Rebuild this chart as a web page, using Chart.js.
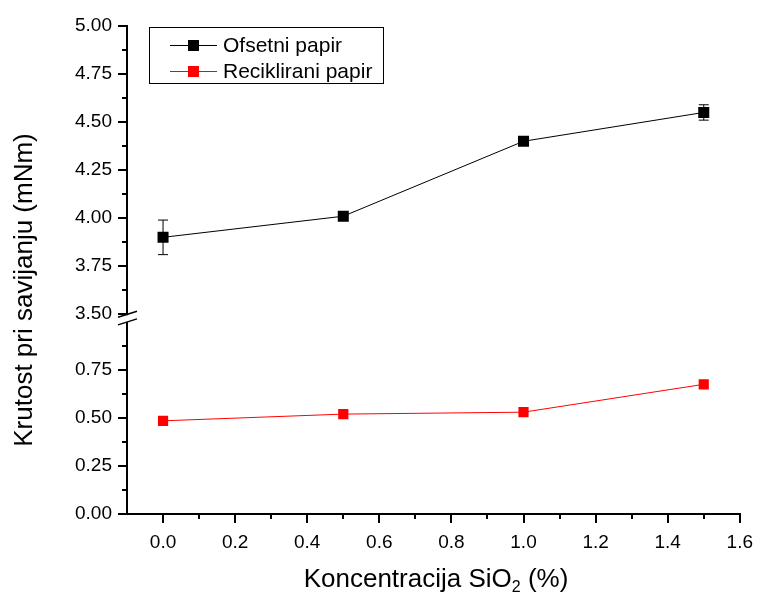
<!DOCTYPE html>
<html>
<head>
<meta charset="utf-8">
<script src="https://cdn.jsdelivr.net/npm/chart.js@4.4.0/dist/chart.umd.min.js"></script>
<style>
  html, body { margin: 0; padding: 0; background: #fff; }
  #wrap { width: 761px; height: 594px; }
</style>
</head>
<body>
<div id="wrap"><canvas id="chart" width="761" height="594"></canvas></div>
<script>
// data
const concentrations = [0, 0.5, 1.0, 1.5];
const ofsetni = [3.90, 4.01, 4.40, 4.55];
const ofsetniErr = [0.09, 0.005, 0.01, 0.04];
const reciklirani = [0.485, 0.52, 0.53, 0.675];
const recikliraniErr = [0, 0, 0, 0];

// ticks
const xTicks = [0, 0.2, 0.4, 0.6, 0.8, 1.0, 1.2, 1.4, 1.6];
const xMinor = [0.1, 0.3, 0.5, 0.7, 0.9, 1.1, 1.3, 1.5];
const yLowTicks = [0, 0.25, 0.5, 0.75];
const yLowMinor = [0.125, 0.375, 0.625, 0.875];
const yHighTicks = [3.5, 3.75, 4.0, 4.25, 4.5, 4.75, 5.0];
const yHighMinor = [3.625, 3.875, 4.125, 4.375, 4.625, 4.875];

Chart.defaults.font.family = "'Liberation Sans', Arial, sans-serif";
Chart.defaults.color = '#000';

const toPoints = (ys) => concentrations.map((x, i) => ({ x: x, y: ys[i] }));

const axisGrid = {
  drawOnChartArea: false,
  drawTicks: true,
  tickLength: 9,
  tickWidth: 2,
  lineWidth: 2,
  color: '#000'
};

// error bars, minor ticks, axis break, legend, titles
const extras = {
  id: 'extras',
  beforeDatasetsDraw(chart) {
    const ctx = chart.ctx;
    const xs = chart.scales.x;
    const sets = [
      { scale: chart.scales.y2, vals: ofsetni, errs: ofsetniErr, color: '#000' },
      { scale: chart.scales.y, vals: reciklirani, errs: recikliraniErr, color: '#ff0000' }
    ];
    ctx.save();
    ctx.lineWidth = 1;
    sets.forEach(s => {
      ctx.strokeStyle = s.color;
      concentrations.forEach((c, i) => {
        if (!s.errs[i]) return;
        const px = xs.getPixelForValue(c);
        const top = s.scale.getPixelForValue(s.vals[i] + s.errs[i]);
        const bot = s.scale.getPixelForValue(s.vals[i] - s.errs[i]);
        ctx.beginPath();
        ctx.moveTo(px, top); ctx.lineTo(px, bot);
        ctx.moveTo(px - 5, top); ctx.lineTo(px + 5, top);
        ctx.moveTo(px - 5, bot); ctx.lineTo(px + 5, bot);
        ctx.stroke();
      });
    });
    ctx.restore();
  },
  afterDraw(chart) {
    const ctx = chart.ctx;
    const xs = chart.scales.x, yLo = chart.scales.y, yHi = chart.scales.y2;
    const ax = chart.chartArea.left;
    ctx.save();

    // minor ticks
    ctx.strokeStyle = '#000';
    ctx.lineWidth = 2;
    ctx.beginPath();
    xMinor.forEach(v => {
      const px = Math.round(xs.getPixelForValue(v));
      ctx.moveTo(px, xs.top); ctx.lineTo(px, xs.top + 5);
    });
    yLowMinor.forEach(v => {
      const py = Math.round(yLo.getPixelForValue(v));
      ctx.moveTo(ax - 5, py); ctx.lineTo(ax, py);
    });
    yHighMinor.forEach(v => {
      const py = Math.round(yHi.getPixelForValue(v));
      ctx.moveTo(ax - 5, py); ctx.lineTo(ax, py);
    });
    ctx.stroke();

    // axis break
    const bTop = yHi.getPixelForValue(3.5);
    const bBot = yLo.getPixelForValue(1.0);
    ctx.fillStyle = '#fff';
    ctx.fillRect(ax - 3, bTop + 1, 6, bBot - bTop - 1);
    ctx.beginPath();
    ctx.moveTo(ax - 9, bTop + 3); ctx.lineTo(ax + 10, bTop - 3);
    ctx.moveTo(ax - 9, bBot + 3); ctx.lineTo(ax + 10, bBot - 3);
    ctx.lineWidth = 1.5;
    ctx.stroke();

    // legend
    const lx = 149.5, ly = 27.5, lw = 234, lh = 56;
    ctx.lineWidth = 1;
    ctx.strokeStyle = '#000';
    ctx.strokeRect(lx, ly, lw, lh);
    const rows = [45, 71];
    chart.data.datasets.forEach((ds, i) => {
      const ry = rows[i];
      ctx.strokeStyle = ds.borderColor;
      ctx.beginPath();
      ctx.moveTo(170, ry + 0.5); ctx.lineTo(217, ry + 0.5);
      ctx.stroke();
      ctx.fillStyle = ds.pointBackgroundColor;
      ctx.fillRect(188, ry - 5, 11, 11);
      ctx.fillStyle = '#000';
      ctx.font = "21px 'Liberation Sans', Arial, sans-serif";
      ctx.textAlign = 'left';
      ctx.textBaseline = 'middle';
      ctx.fillText(ds.label, 223, ry + 1);
    });

    // y title
    ctx.save();
    ctx.translate(25, 290);
    ctx.rotate(-Math.PI / 2);
    ctx.font = "26px 'Liberation Sans', Arial, sans-serif";
    ctx.textAlign = 'center';
    ctx.textBaseline = 'middle';
    ctx.fillStyle = '#000';
    ctx.fillText('Krutost pri savijanju (mNm)', 0, 0);
    ctx.restore();

    // x title with subscript
    const big = "26px 'Liberation Sans', Arial, sans-serif";
    const small = "16px 'Liberation Sans', Arial, sans-serif";
    const p1 = 'Koncentracija SiO', p2 = '2', p3 = ' (%)';
    ctx.font = big; const w1 = ctx.measureText(p1).width, w3 = ctx.measureText(p3).width;
    ctx.font = small; const w2 = ctx.measureText(p2).width;
    let tx = 436 - (w1 + w2 + w3) / 2;
    const base = 587;
    ctx.fillStyle = '#000';
    ctx.textAlign = 'left';
    ctx.textBaseline = 'alphabetic';
    ctx.font = big; ctx.fillText(p1, tx, base); tx += w1;
    ctx.font = small; ctx.fillText(p2, tx, base + 5); tx += w2;
    ctx.font = big; ctx.fillText(p3, tx, base);

    ctx.restore();
  }
};

new Chart(document.getElementById('chart'), {
  type: 'line',
  data: {
    datasets: [
      {
        label: 'Ofsetni papir',
        data: toPoints(ofsetni),
        yAxisID: 'y2',
        borderColor: '#000',
        borderWidth: 1,
        pointStyle: 'rect',
        pointRadius: 7.8,
        pointBackgroundColor: '#000',
        pointBorderWidth: 0,
        tension: 0
      },
      {
        label: 'Reciklirani papir',
        data: toPoints(reciklirani),
        yAxisID: 'y',
        borderColor: '#ff0000',
        borderWidth: 1,
        pointStyle: 'rect',
        pointRadius: 7.2,
        pointBackgroundColor: '#ff0000',
        pointBorderWidth: 0,
        tension: 0
      }
    ]
  },
  options: {
    responsive: false,
    animation: false,
    layout: { padding: { top: 26, right: 21, left: 0, bottom: 0 } },
    plugins: { legend: { display: false }, tooltip: { enabled: false } },
    scales: {
      x: {
        type: 'linear',
        min: -0.1,
        max: 1.6,
        grid: axisGrid,
        border: { display: true, width: 2, color: '#000' },
        afterBuildTicks: s => { s.ticks = xTicks.map(v => ({ value: v })); },
        afterFit: s => { s.height = 80; },
        ticks: {
          autoSkip: false,
          maxRotation: 0,
          padding: 8,
          font: { size: 19 },
          callback: v => Number(v).toFixed(1)
        }
      },
      y: {
        type: 'linear',
        position: 'left',
        stack: 'yy',
        stackWeight: 1,
        min: 0,
        max: 1.0,
        grid: axisGrid,
        border: { display: true, width: 2, color: '#000' },
        afterBuildTicks: s => { s.ticks = yLowTicks.map(v => ({ value: v })); },
        afterFit: s => { s.width = 127; },
        ticks: {
          autoSkip: false,
          padding: 6,
          font: { size: 19 },
          callback: v => Number(v).toFixed(2)
        }
      },
      y2: {
        type: 'linear',
        position: 'left',
        stack: 'yy',
        stackWeight: 1.54,
        min: 3.46,
        max: 5.0,
        grid: axisGrid,
        border: { display: true, width: 2, color: '#000' },
        afterBuildTicks: s => { s.ticks = yHighTicks.map(v => ({ value: v })); },
        afterFit: s => { s.width = 127; },
        ticks: {
          autoSkip: false,
          padding: 6,
          font: { size: 19 },
          callback: v => Number(v).toFixed(2)
        }
      }
    }
  },
  plugins: [extras]
});
</script>
</body>
</html>
